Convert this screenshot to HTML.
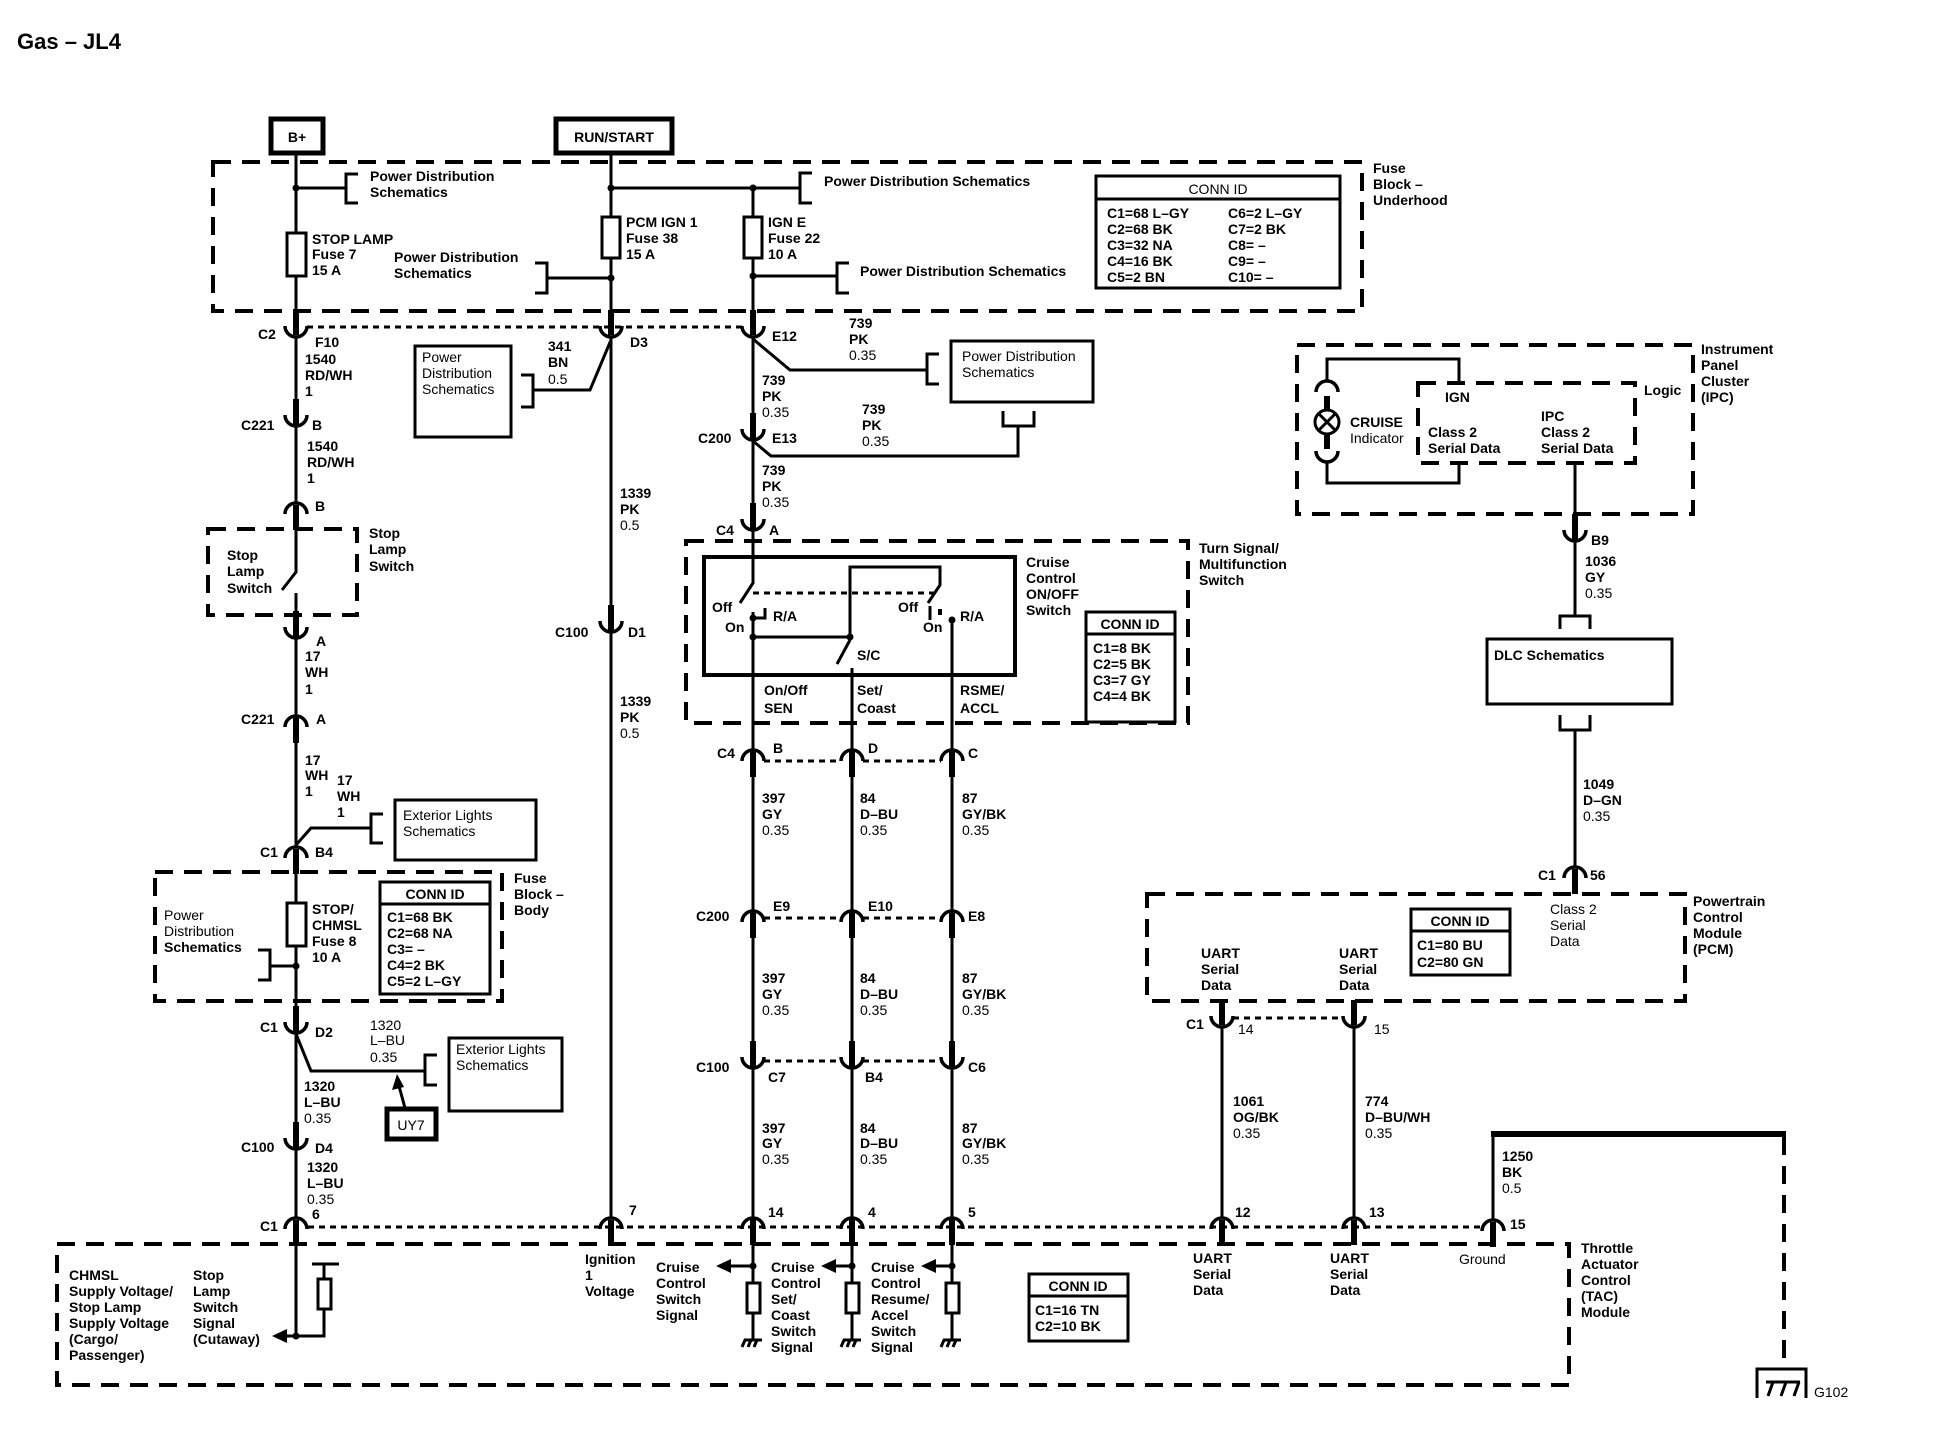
<!DOCTYPE html>
<html><head><meta charset="utf-8"><style>
html,body{margin:0;padding:0;background:#fff}
svg{display:block}
text{font-family:"Liberation Sans",Arial,sans-serif;font-size:14px;font-weight:bold;fill:#000}
.w{stroke:#000;stroke-width:3;fill:none}
.t{stroke:#000;stroke-width:6;fill:none}
.d{stroke:#000;stroke-width:4;fill:none;stroke-dasharray:18 11}
.o{stroke:#000;stroke-width:3;fill:none;stroke-dasharray:6 5}
.b{stroke:#000;stroke-width:3;fill:#fff}
.bb{stroke:#000;stroke-width:5;fill:#fff}
</style></head><body>
<svg width="1938" height="1456" viewBox="0 0 1938 1456" xmlns="http://www.w3.org/2000/svg">
<defs>
<g id="cup"><path d="M-11,-11 A11,11 0 0 0 11,-11" stroke="#000" stroke-width="3.5" fill="none"/><line x1="0" y1="-27" x2="0" y2="-2" stroke="#000" stroke-width="6"/></g>
<g id="cap"><path d="M-11,11 A11,11 0 0 1 11,11" stroke="#000" stroke-width="3.5" fill="none"/><line x1="0" y1="2" x2="0" y2="27" stroke="#000" stroke-width="6"/></g>
<g id="gnd"><path d="M-9,0 H9 M-8,0 l-3,7 M-2,0 l-3,7 M4,0 l-3,7" stroke="#000" stroke-width="3" fill="none"/></g>
</defs>

<text x="17" y="49" style="font-size:22px">Gas – JL4</text>

<!-- B+ and RUN/START -->
<rect x="271" y="119" width="52" height="34" class="bb"/><text x="297" y="142" text-anchor="middle">B+</text>
<rect x="556" y="119" width="116" height="34" class="bb"/><text x="614" y="142" text-anchor="middle">RUN/START</text>

<!-- Fuse block underhood -->
<path d="M213,162 H1362 V311 H213 Z" class="d"/>
<text x="1373" y="173">Fuse</text><text x="1373" y="189">Block –</text><text x="1373" y="205">Underhood</text>

<!-- B+ wire -->
<path d="M296,153 V312" class="w"/>
<circle cx="296" cy="188" r="3.5"/>
<path d="M296,188 H346 M358,174 H346 V203 H358" class="w"/>
<text x="370" y="181">Power Distribution</text><text x="370" y="197">Schematics</text>
<rect x="287" y="233" width="19" height="43" class="b"/>
<text x="312" y="244">STOP LAMP</text><text x="312" y="259">Fuse 7</text><text x="312" y="275">15 A</text>

<!-- RUN wire -->
<path d="M611,153 V312" class="w"/>
<circle cx="611" cy="188" r="3.5"/><circle cx="611" cy="278" r="3.5"/><circle cx="753" cy="188" r="3.5"/><circle cx="753" cy="276" r="3.5"/>
<path d="M611,188 H800 M812,173 H800 V203 H812" class="w"/>
<text x="824" y="186">Power Distribution Schematics</text>
<path d="M611,278 H547 M535,263 H547 V293 H535" class="w"/>
<text x="394" y="262">Power Distribution</text><text x="394" y="278">Schematics</text>
<rect x="602" y="217" width="18" height="41" class="b"/>
<text x="626" y="227">PCM IGN 1</text><text x="626" y="243">Fuse 38</text><text x="626" y="259">15 A</text>
<path d="M753,188 V312" class="w"/>
<rect x="744" y="217" width="18" height="41" class="b"/>
<text x="768" y="227">IGN E</text><text x="768" y="243">Fuse 22</text><text x="768" y="259">10 A</text>
<path d="M753,276 H837 M849,263 H837 V293 H849" class="w"/>
<text x="860" y="276">Power Distribution Schematics</text>

<!-- CONN ID underhood -->
<rect x="1096" y="176" width="244" height="112" class="b" stroke-width="4"/>
<line x1="1096" y1="199" x2="1340" y2="199" stroke="#000" stroke-width="3"/>
<text x="1218" y="194" text-anchor="middle" style="font-weight:normal">CONN ID</text>
<g style="font-weight:normal">
<text x="1107" y="218">C1=68 L–GY</text><text x="1107" y="234">C2=68 BK</text><text x="1107" y="250">C3=32 NA</text><text x="1107" y="266">C4=16 BK</text><text x="1107" y="282">C5=2 BN</text>
<text x="1228" y="218">C6=2 L–GY</text><text x="1228" y="234">C7=2 BK</text><text x="1228" y="250">C8= –</text><text x="1228" y="266">C9= –</text><text x="1228" y="282">C10= –</text>
</g>

<!-- row C2 -->
<path d="M307,327 H742" class="o"/>
<use href="#cup" x="296" y="337"/><use href="#cup" x="611" y="337"/><use href="#cup" x="753" y="337"/>
<text x="258" y="339">C2</text><text x="315" y="347">F10</text><text x="630" y="347">D3</text><text x="772" y="341">E12</text>

<!-- x296 column -->
<path d="M296,337 V503 M296,529 V572 L282,590 M296,593 V848 M296,873 V1217 M296,1243 V1336" class="w"/>
<text x="305" y="364">1540</text><text x="305" y="380">RD/WH</text><text x="305" y="396">1</text>
<use href="#cup" x="296" y="426"/><text x="241" y="430">C221</text><text x="312" y="430">B</text>
<text x="307" y="451">1540</text><text x="307" y="467">RD/WH</text><text x="307" y="483">1</text>
<use href="#cap" x="296" y="503"/><text x="315" y="511">B</text>
<path d="M208,529 H357 V615 H208 Z" class="d"/>
<text x="227" y="560">Stop</text><text x="227" y="576">Lamp</text><text x="227" y="593">Switch</text>
<text x="369" y="538">Stop</text><text x="369" y="554">Lamp</text><text x="369" y="571">Switch</text>
<use href="#cup" x="296" y="638"/><text x="316" y="646">A</text>
<text x="305" y="661">17</text><text x="305" y="677">WH</text><text x="305" y="694">1</text>
<use href="#cap" x="296" y="716"/><text x="241" y="724">C221</text><text x="316" y="724">A</text>
<text x="305" y="765">17</text><text x="305" y="780">WH</text><text x="305" y="796">1</text>
<text x="337" y="785">17</text><text x="337" y="801">WH</text><text x="337" y="817">1</text>
<path d="M296,845 L311,828 H371 M383,814 H371 V843 H383" class="w"/>
<rect x="395" y="800" width="141" height="60" class="b"/>
<text x="403" y="820" style="font-weight:normal">Exterior Lights</text><text x="403" y="836" style="font-weight:normal">Schematics</text>
<use href="#cap" x="296" y="847"/><text x="260" y="857">C1</text><text x="315" y="857">B4</text>

<!-- fuse block body -->
<path d="M155,872 H502 V1001 H155 Z" class="d"/>
<text x="514" y="883">Fuse</text><text x="514" y="899">Block –</text><text x="514" y="915">Body</text>
<rect x="287" y="903" width="19" height="43" class="b"/>
<text x="312" y="914">STOP/</text><text x="312" y="930">CHMSL</text><text x="312" y="946">Fuse 8</text><text x="312" y="962">10 A</text>
<text x="164" y="920" style="font-weight:normal">Power</text><text x="164" y="936" style="font-weight:normal">Distribution</text><text x="164" y="952">Schematics</text>
<circle cx="296" cy="966" r="3.5"/>
<path d="M296,966 H270 M258,950 H270 V980 H258" class="w"/>
<rect x="380" y="882" width="110" height="112" class="b" stroke-width="4"/>
<line x1="380" y1="904" x2="490" y2="904" stroke="#000" stroke-width="3"/>
<g style="font-weight:normal">
<text x="435" y="899" text-anchor="middle">CONN ID</text>
<text x="387" y="922">C1=68 BK</text><text x="387" y="938">C2=68 NA</text><text x="387" y="954">C3= –</text><text x="387" y="970">C4=2 BK</text><text x="387" y="986">C5=2 L–GY</text>
</g>
<use href="#cup" x="296" y="1033"/><text x="260" y="1032">C1</text><text x="315" y="1037">D2</text>
<path d="M296,1034 L311,1071 H425 M437,1055 H425 V1085 H437" class="w"/>
<rect x="449" y="1038" width="113" height="73" class="b"/>
<text x="456" y="1054" style="font-weight:normal">Exterior Lights</text><text x="456" y="1070" style="font-weight:normal">Schematics</text>
<text x="370" y="1030" style="font-weight:normal">1320</text><text x="370" y="1045" style="font-weight:normal">L–BU</text><text x="370" y="1062" style="font-weight:normal">0.35</text>
<rect x="387" y="1109" width="49" height="30" class="bb" stroke-width="4"/><text x="411" y="1130" text-anchor="middle" style="font-weight:normal">UY7</text>
<path d="M405,1108 L399,1086" class="w"/><path d="M397,1074 L392,1090 L404,1087 Z"/>
<text x="304" y="1091">1320</text><text x="304" y="1107">L–BU</text><text x="304" y="1123" style="font-weight:normal">0.35</text>
<use href="#cup" x="296" y="1149"/><text x="241" y="1152">C100</text><text x="315" y="1153">D4</text>
<text x="307" y="1172">1320</text><text x="307" y="1188">L–BU</text><text x="307" y="1204" style="font-weight:normal">0.35</text>
<use href="#cap" x="296" y="1218"/><text x="260" y="1231">C1</text><text x="312" y="1219">6</text>

<!-- bottom dotted row -->
<path d="M308,1227 H1482" class="o"/>

<!-- TAC module -->
<path d="M57,1244 H1569 V1385 H57 Z" class="d"/>
<text x="1581" y="1253">Throttle</text><text x="1581" y="1269">Actuator</text><text x="1581" y="1285">Control</text><text x="1581" y="1301">(TAC)</text><text x="1581" y="1317">Module</text>
<circle cx="296" cy="1336" r="3.5"/>
<path d="M296,1336 H324 V1309 M324,1279 V1264 M312,1264 H339" class="w"/>
<rect x="318" y="1279" width="13" height="30" class="b"/>
<path d="M296,1336 H284" class="w"/><path d="M272,1336 L287,1329 L287,1343 Z"/>
<text x="69" y="1280">CHMSL</text><text x="69" y="1296">Supply Voltage/</text><text x="69" y="1312">Stop Lamp</text><text x="69" y="1328">Supply Voltage</text><text x="69" y="1344">(Cargo/</text><text x="69" y="1360">Passenger)</text>
<text x="193" y="1280">Stop</text><text x="193" y="1296">Lamp</text><text x="193" y="1312">Switch</text><text x="193" y="1328">Signal</text><text x="193" y="1344">(Cutaway)</text>

<!-- x611 column -->
<path d="M611,337 V632 M611,632 V1217" class="w"/>
<path d="M611,340 L590,390 H533 M521,375 H533 V407 H521" class="w"/>
<rect x="415" y="346" width="96" height="91" class="b"/>
<text x="422" y="362" style="font-weight:normal">Power</text><text x="422" y="378" style="font-weight:normal">Distribution</text><text x="422" y="394" style="font-weight:normal">Schematics</text>
<text x="548" y="351">341</text><text x="548" y="367">BN</text><text x="548" y="384" style="font-weight:normal">0.5</text>
<text x="620" y="498">1339</text><text x="620" y="514">PK</text><text x="620" y="530" style="font-weight:normal">0.5</text>
<use href="#cup" x="611" y="632"/><text x="555" y="637">C100</text><text x="628" y="637">D1</text>
<text x="620" y="706">1339</text><text x="620" y="722">PK</text><text x="620" y="738" style="font-weight:normal">0.5</text>
<use href="#cap" x="611" y="1218"/><text x="629" y="1215">7</text>
<text x="585" y="1264">Ignition</text><text x="585" y="1280">1</text><text x="585" y="1296">Voltage</text>

<!-- x753 upper -->
<path d="M753,337 V557" class="w"/>
<path d="M753,339 L790,370 H927 M939,354 H927 V384 H939" class="w"/>
<rect x="951" y="341" width="142" height="61" class="b"/>
<text x="962" y="361" style="font-weight:normal">Power Distribution</text><text x="962" y="377" style="font-weight:normal">Schematics</text>
<path d="M1003,411 V426 H1034 V411 M1018,426 V456 H771 L753,441" class="w"/>
<text x="849" y="328">739</text><text x="849" y="344">PK</text><text x="849" y="360" style="font-weight:normal">0.35</text>
<text x="762" y="385">739</text><text x="762" y="401">PK</text><text x="762" y="417" style="font-weight:normal">0.35</text>
<use href="#cup" x="753" y="440"/><text x="698" y="443">C200</text><text x="772" y="443">E13</text>
<text x="862" y="414">739</text><text x="862" y="430">PK</text><text x="862" y="446" style="font-weight:normal">0.35</text>
<text x="762" y="475">739</text><text x="762" y="491">PK</text><text x="762" y="507" style="font-weight:normal">0.35</text>
<use href="#cup" x="753" y="530"/><text x="716" y="535">C4</text><text x="769" y="535">A</text>

<!-- turn signal switch -->
<path d="M686,541 H1188 V723 H686 Z" class="d"/>
<text x="1199" y="553">Turn Signal/</text><text x="1199" y="569">Multifunction</text><text x="1199" y="585">Switch</text>
<rect x="704" y="557" width="311" height="118" fill="none" stroke="#000" stroke-width="4"/>
<text x="1026" y="567">Cruise</text><text x="1026" y="583">Control</text><text x="1026" y="599">ON/OFF</text><text x="1026" y="615">Switch</text>
<path d="M753,557 V583 L740,603" class="w"/>
<path d="M753,593 H934" class="o"/>
<path d="M753,612 V760 M765,608 V618 H753" class="w"/>
<circle cx="753" cy="618" r="3.5"/><circle cx="753" cy="637" r="3.5"/><circle cx="850" cy="637" r="3.5"/>
<text x="712" y="612">Off</text><text x="725" y="632">On</text><text x="773" y="621">R/A</text>
<path d="M753,637 H850 V567 H940 V585 L928,603 M930,606 V620" class="w"/>
<rect x="938" y="609" width="4" height="6"/>
<circle cx="952" cy="620" r="3.5"/>
<text x="898" y="612">Off</text><text x="923" y="632">On</text><text x="960" y="621">R/A</text>
<path d="M850,640 L837,664 M852,668 V760 M952,620 V760" class="w"/>
<text x="857" y="660">S/C</text>
<text x="764" y="695">On/Off</text><text x="764" y="713">SEN</text>
<text x="857" y="695">Set/</text><text x="857" y="713">Coast</text>
<text x="960" y="695">RSME/</text><text x="960" y="713">ACCL</text>
<rect x="1086" y="612" width="89" height="110" class="b" stroke-width="4"/>
<line x1="1086" y1="634" x2="1175" y2="634" stroke="#000" stroke-width="3"/>
<g style="font-weight:normal">
<text x="1130" y="629" text-anchor="middle">CONN ID</text>
<text x="1093" y="653">C1=8 BK</text><text x="1093" y="669">C2=5 BK</text><text x="1093" y="685">C3=7 GY</text><text x="1093" y="701">C4=4 BK</text>
</g>

<!-- cruise columns -->
<g>
<path d="M753,760 V1340 M852,760 V1340 M952,760 V1340" class="w"/>
<path d="M764,761 H841 M863,761 H941 M764,918 H841 M863,918 H941 M764,1061 H841 M863,1061 H941" class="o"/>
<use href="#cap" x="753" y="750"/><use href="#cap" x="852" y="750"/><use href="#cap" x="952" y="750"/>
<text x="717" y="758">C4</text><text x="773" y="753">B</text><text x="868" y="753">D</text><text x="968" y="758">C</text>
<text x="762" y="803">397</text><text x="762" y="819">GY</text><text x="762" y="835" style="font-weight:normal">0.35</text>
<text x="860" y="803">84</text><text x="860" y="819">D–BU</text><text x="860" y="835" style="font-weight:normal">0.35</text>
<text x="962" y="803">87</text><text x="962" y="819">GY/BK</text><text x="962" y="835" style="font-weight:normal">0.35</text>
<use href="#cap" x="753" y="911"/><use href="#cap" x="852" y="911"/><use href="#cap" x="952" y="911"/>
<text x="696" y="921">C200</text><text x="773" y="911">E9</text><text x="868" y="911">E10</text><text x="968" y="921">E8</text>
<text x="762" y="983">397</text><text x="762" y="999">GY</text><text x="762" y="1015" style="font-weight:normal">0.35</text>
<text x="860" y="983">84</text><text x="860" y="999">D–BU</text><text x="860" y="1015" style="font-weight:normal">0.35</text>
<text x="962" y="983">87</text><text x="962" y="999">GY/BK</text><text x="962" y="1015" style="font-weight:normal">0.35</text>
<use href="#cup" x="753" y="1068"/><use href="#cup" x="852" y="1068"/><use href="#cup" x="952" y="1068"/>
<text x="696" y="1072">C100</text><text x="768" y="1082">C7</text><text x="865" y="1082">B4</text><text x="968" y="1072">C6</text>
<text x="762" y="1133">397</text><text x="762" y="1148">GY</text><text x="762" y="1164" style="font-weight:normal">0.35</text>
<text x="860" y="1133">84</text><text x="860" y="1148">D–BU</text><text x="860" y="1164" style="font-weight:normal">0.35</text>
<text x="962" y="1133">87</text><text x="962" y="1148">GY/BK</text><text x="962" y="1164" style="font-weight:normal">0.35</text>
<use href="#cap" x="753" y="1218"/><use href="#cap" x="852" y="1218"/><use href="#cap" x="952" y="1218"/>
<text x="768" y="1217">14</text><text x="868" y="1217">4</text><text x="968" y="1217">5</text>
<circle cx="753" cy="1266" r="3.5"/><circle cx="852" cy="1266" r="3.5"/><circle cx="952" cy="1266" r="3.5"/>
<path d="M753,1266 H728 M852,1266 H833 M952,1266 H933" class="w"/>
<path d="M716,1266 L731,1259 L731,1273 Z M821,1266 L836,1259 L836,1273 Z M921,1266 L936,1259 L936,1273 Z"/>
<rect x="747" y="1283" width="13" height="30" class="b"/><rect x="846" y="1283" width="13" height="30" class="b"/><rect x="946" y="1283" width="13" height="30" class="b"/>
<use href="#gnd" x="753" y="1340"/><use href="#gnd" x="852" y="1340"/><use href="#gnd" x="952" y="1340"/>
<text x="656" y="1272">Cruise</text><text x="656" y="1288">Control</text><text x="656" y="1304">Switch</text><text x="656" y="1320">Signal</text>
<text x="771" y="1272">Cruise</text><text x="771" y="1288">Control</text><text x="771" y="1304">Set/</text><text x="771" y="1320">Coast</text><text x="771" y="1336">Switch</text><text x="771" y="1352">Signal</text>
<text x="871" y="1272">Cruise</text><text x="871" y="1288">Control</text><text x="871" y="1304">Resume/</text><text x="871" y="1320">Accel</text><text x="871" y="1336">Switch</text><text x="871" y="1352">Signal</text>
</g>
<rect x="1029" y="1274" width="99" height="67" class="b" stroke-width="4"/>
<line x1="1029" y1="1296" x2="1128" y2="1296" stroke="#000" stroke-width="3"/>
<g style="font-weight:normal"><text x="1078" y="1291" text-anchor="middle">CONN ID</text><text x="1035" y="1315">C1=16 TN</text><text x="1035" y="1331">C2=10 BK</text></g>

<!-- IPC -->
<path d="M1297,345 H1693 V514 H1297 Z" class="d"/>
<text x="1701" y="354">Instrument</text><text x="1701" y="370">Panel</text><text x="1701" y="386">Cluster</text><text x="1701" y="402">(IPC)</text>
<path d="M1418,383 H1635 V463 H1418 Z" class="d"/>
<text x="1644" y="395">Logic</text>
<path d="M1327,381 V359 H1459 V383 M1327,463 V483 H1459 V463" class="w"/>
<path d="M1316,392 A11,11 0 0 1 1338,392 M1316,451 A11,11 0 0 0 1338,451" stroke="#000" stroke-width="3.5" fill="none"/>
<path d="M1327,396 V410 M1327,434 V449" class="t"/>
<circle cx="1327" cy="422" r="12" class="w"/>
<path d="M1319,414 L1335,430 M1335,414 L1319,430" class="w"/>
<text x="1350" y="427">CRUISE</text><text x="1350" y="443" style="font-weight:normal">Indicator</text>
<text x="1445" y="402">IGN</text>
<text x="1428" y="437">Class 2</text><text x="1428" y="453">Serial Data</text>
<text x="1541" y="421">IPC</text><text x="1541" y="437">Class 2</text><text x="1541" y="453">Serial Data</text>
<path d="M1575,463 V617" class="w"/>
<use href="#cup" x="1575" y="541"/><text x="1591" y="545">B9</text>
<text x="1585" y="566">1036</text><text x="1585" y="582">GY</text><text x="1585" y="598" style="font-weight:normal">0.35</text>
<path d="M1560,629 V616 H1590 V629" class="w"/>
<rect x="1487" y="639" width="185" height="65" class="b" stroke-width="4"/>
<text x="1494" y="660">DLC Schematics</text>
<path d="M1560,715 V730 H1590 V715 M1575,730 V866" class="w"/>
<text x="1583" y="789">1049</text><text x="1583" y="805">D–GN</text><text x="1583" y="821" style="font-weight:normal">0.35</text>
<use href="#cap" x="1575" y="867"/><text x="1538" y="880">C1</text><text x="1590" y="880">56</text>

<!-- PCM -->
<path d="M1147,894 H1685 V1001 H1147 Z" class="d"/>
<text x="1693" y="906">Powertrain</text><text x="1693" y="922">Control</text><text x="1693" y="938">Module</text><text x="1693" y="954">(PCM)</text>
<text x="1550" y="914" style="font-weight:normal">Class 2</text><text x="1550" y="930" style="font-weight:normal">Serial</text><text x="1550" y="946" style="font-weight:normal">Data</text>
<rect x="1411" y="909" width="99" height="66" class="b" stroke-width="4"/>
<line x1="1411" y1="931" x2="1510" y2="931" stroke="#000" stroke-width="3"/>
<g style="font-weight:normal"><text x="1460" y="926" text-anchor="middle">CONN ID</text><text x="1417" y="950">C1=80 BU</text><text x="1417" y="967">C2=80 GN</text></g>
<text x="1201" y="958">UART</text><text x="1201" y="974">Serial</text><text x="1201" y="990">Data</text>
<text x="1339" y="958">UART</text><text x="1339" y="974">Serial</text><text x="1339" y="990">Data</text>
<path d="M1233,1018 H1343" class="o"/>
<use href="#cup" x="1222" y="1027"/><use href="#cup" x="1354" y="1027"/>
<text x="1186" y="1029">C1</text><text x="1238" y="1034" style="font-weight:normal">14</text><text x="1374" y="1034" style="font-weight:normal">15</text>
<path d="M1222,1027 V1217 M1354,1027 V1217" class="w"/>
<text x="1233" y="1106">1061</text><text x="1233" y="1122">OG/BK</text><text x="1233" y="1138" style="font-weight:normal">0.35</text>
<text x="1365" y="1106">774</text><text x="1365" y="1122">D–BU/WH</text><text x="1365" y="1138" style="font-weight:normal">0.35</text>
<use href="#cap" x="1222" y="1218"/><use href="#cap" x="1354" y="1218"/><use href="#cap" x="1493" y="1220"/>
<text x="1235" y="1217">12</text><text x="1369" y="1217">13</text><text x="1510" y="1229">15</text>
<path d="M1493,1220 V1134" class="w"/><path d="M1491,1134 H1786" stroke="#000" stroke-width="6"/>
<path d="M1784,1137 V1359" class="d"/>
<text x="1502" y="1161">1250</text><text x="1502" y="1177">BK</text><text x="1502" y="1193" style="font-weight:normal">0.5</text>
<text x="1193" y="1263">UART</text><text x="1193" y="1279">Serial</text><text x="1193" y="1295">Data</text>
<text x="1330" y="1263">UART</text><text x="1330" y="1279">Serial</text><text x="1330" y="1295">Data</text>
<text x="1459" y="1264" style="font-weight:normal">Ground</text>
<path d="M1757,1398 V1369 H1806 V1398 M1766,1382 H1800 M1768,1396 l5,-14 M1781,1396 l5,-14 M1794,1396 l5,-14" class="w"/>
<text x="1814" y="1397" style="font-weight:normal">G102</text>
</svg>
</body></html>
